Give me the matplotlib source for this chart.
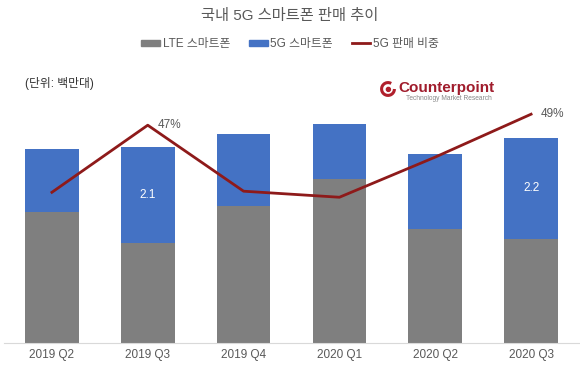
import matplotlib.pyplot as plt
from matplotlib.patches import Patch, Arc, Circle
from matplotlib.lines import Line2D
import numpy as np

plt.rcParams['font.family'] = ['Liberation Sans', 'Noto Sans CJK KR', 'DejaVu Sans']

quarters = ['2019 Q2', '2019 Q3', '2019 Q4', '2020 Q1', '2020 Q2', '2020 Q3']
lte = [2.85, 2.17, 2.98, 3.57, 2.48, 2.26]
g5 = [1.37, 2.1, 1.57, 1.2, 1.63, 2.2]
share = [34.8, 47, 35.0, 33.9, 41.2, 49]
bar_labels = {1: '2.1', 5: '2.2'}
share_labels = {1: '47%', 5: '49%'}

GRAY = '#7f7f7f'
BLUE = '#4472c4'
RED = '#8e1a1a'
TXT = '#595959'

fig = plt.figure(figsize=(5.8, 3.67), dpi=100)
ax = fig.add_axes([4 / 580, 24 / 367, 575 / 580, 253 / 367])
x = np.arange(len(quarters))
ax.bar(x, lte, width=0.56, color=GRAY, zorder=2)
ax.bar(x, g5, width=0.56, bottom=lte, color=BLUE, zorder=2)
for i, lab in bar_labels.items():
    ax.text(x[i], lte[i] + g5[i] / 2, lab, color='white', ha='center', va='center', fontsize=8.5)
ax.set_xlim(-0.5, 5.5)
ax.set_ylim(0, 5.5)
ax.set_yticks([])
ax.set_xticks(x)
ax.set_xticklabels(quarters, fontsize=8.5, color=TXT)
ax.tick_params(axis='x', length=0, pad=4)
for s in ['top', 'left', 'right']:
    ax.spines[s].set_visible(False)
ax.spines['bottom'].set_color('#d9d9d9')

ax2 = ax.twinx()
ax2.plot(x, share, color=RED, lw=2, zorder=3)
ax2.set_ylim(7.4, 53.4)
ax2.set_yticks([])
for s in ax2.spines.values():
    s.set_visible(False)
for i, lab in share_labels.items():
    ax2.text(x[i] + 0.1, share[i], lab, color=TXT, ha='left', va='center', fontsize=8.5)

fig.text(0.5, 1 - 16 / 367, '국내 5G 스마트폰 판매 추이', ha='center', va='center', fontsize=11, color=TXT)
handles = [Patch(color=GRAY), Patch(color=BLUE), Line2D([0], [0], color=RED, lw=2)]
fig.legend(handles, ['LTE 스마트폰', '5G 스마트폰', '5G 판매 비중'], loc='center',
           bbox_to_anchor=(0.5, 1 - 44 / 367), ncol=3, frameon=False, fontsize=8.5,
           handlelength=1.6, handleheight=0.4, handletextpad=0.2, columnspacing=1.6,
           labelcolor=TXT)
fig.text(25 / 580, 1 - 84 / 367, '(단위: 백만대)', ha='left', va='center', fontsize=8.5, color='#333333')

# Counterpoint logo
lax = fig.add_axes([380 / 580, 1 - 97 / 367, 16 / 580, 16 / 367])
lax.set_xlim(-1, 1)
lax.set_ylim(-1, 1)
lax.add_patch(Arc((0, 0), 1.6, 1.6, theta1=60, theta2=360, color='#b0202c', lw=2.2))
lax.add_patch(Circle((0.05, -0.05), 0.25, color='#b0202c'))
lax.axis('off')
fig.text(398 / 580, 1 - 88 / 367, 'Counterpoint', ha='left', va='center', fontsize=11,
         fontweight='bold', color='#a01c2c')
fig.text(406 / 580, 1 - 99 / 367, 'Technology Market Research', ha='left', va='center',
         fontsize=4.8, color='#888888')

fig.savefig('out.png', dpi=100)
